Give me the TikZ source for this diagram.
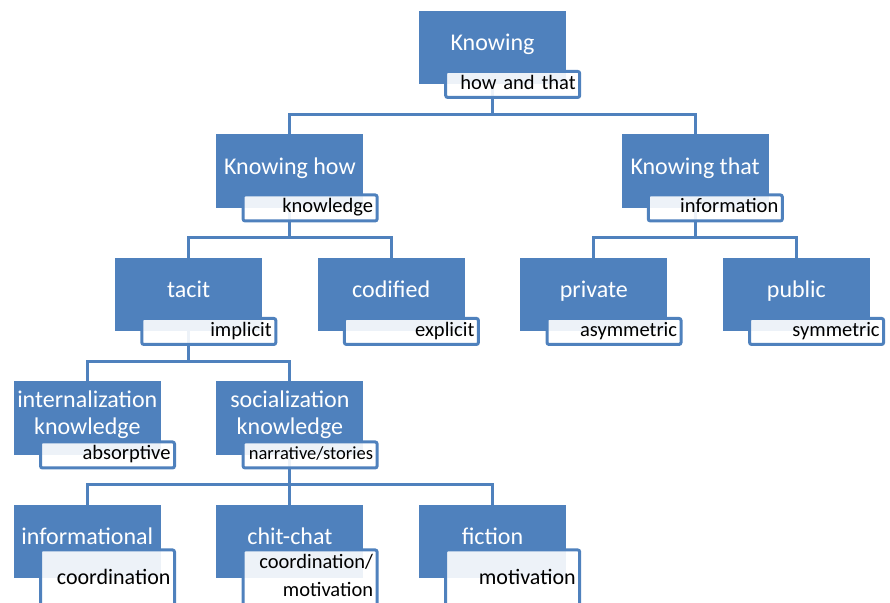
\documentclass[tikz,border=0pt]{standalone}
\usepackage{fontspec}
\setmainfont{Carlito}
\usepackage{tikz}
\usetikzlibrary{positioning}
\definecolor{boxblue}{RGB}{79,129,189}
\tikzset{
    box/.style={
           rectangle,
           fill=boxblue,
           minimum width=147pt,
           minimum height=73.5pt,
           inner sep=0pt,
           text=white,
           align=center,
           text height=16pt,
           text depth=10pt,
           font=\fontsize{24}{27}\selectfont
           },
    twoline/.style={
           text height=43pt
           },
    tag/.style={
           rectangle,
           draw=boxblue, line width=3pt,
           rounded corners=2pt,
           fill=white, fill opacity=0.9, text opacity=1,
           minimum height=26pt,
           inner xsep=4pt, inner ysep=0pt,
           text width=126pt,
           align=right,
           text height=14pt,
           text depth=4pt,
           anchor=north east,
           font=\fontsize{20.5}{28}\selectfont
           },
    tall/.style={
           minimum height=60pt
           },
    link/.style={
           draw=boxblue,
           line width=3pt
           }
}

\begin{document}
\begin{tikzpicture}[x=1pt, y=1pt, node distance=123.5pt and 101.3pt, on grid]
\path[use as bounding box, clip] (0,0) rectangle (890,-602);
   \node[box] (know) at (492.5,-47.5) {Knowing};
   \node[box] (how) [below left=123.5pt and 202.6pt of know] {Knowing how};
   \node[box] (that) [below right=123.5pt and 202.6pt of know] {Knowing that};
   \node[box] (tacit) [below left=of how] {tacit};
   \node[box] (codif) [below right=of how] {codified};
   \node[box] (priv) [below left=of that] {private};
   \node[box] (pub) [below right=of that] {public};
   \node[box, twoline] (intern) [below left=of tacit] {internalization\\knowledge};
   \node[box, twoline] (social) [below right=of tacit] {socialization\\knowledge};
   \node[box] (inform) [below left=123.5pt and 202.6pt of social] {informational};
   \node[box] (chit) [below=of social] {chit-chat};
   \node[box] (fict) [below right=123.5pt and 202.6pt of social] {fiction};
   % connectors
   \draw[link] (know.south) -- ++(0,-30) -| (how.north);
   \draw[link] (know.south) -- ++(0,-30) -| (that.north);
   \draw[link] (how.south) -- ++(0,-30) -| (tacit.north);
   \draw[link] (how.south) -- ++(0,-30) -| (codif.north);
   \draw[link] (that.south) -- ++(0,-30) -| (priv.north);
   \draw[link] (that.south) -- ++(0,-30) -| (pub.north);
   \draw[link] (tacit.south) -- ++(0,-30) -| (intern.north);
   \draw[link] (tacit.south) -- ++(0,-30) -| (social.north);
   \draw[link] (social.south) -- ++(0,-30) -| (inform.north);
   \draw[link] (social.south) -- ++(0,-30) -| (chit.north);
   \draw[link] (social.south) -- ++(0,-30) -| (fict.north);
   % tags
   \node[tag] (knowtag) at ([shift={(15pt,14.5pt)}]know.south east) {how and that};
   \node[tag] (howtag) at ([shift={(15pt,14.5pt)}]how.south east) {knowledge};
   \node[tag] (thattag) at ([shift={(15pt,14.5pt)}]that.south east) {information};
   \node[tag] (tacittag) at ([shift={(15pt,14.5pt)}]tacit.south east) {implicit};
   \node[tag] (codiftag) at ([shift={(15pt,14.5pt)}]codif.south east) {explicit};
   \node[tag] (privtag) at ([shift={(15pt,14.5pt)}]priv.south east) {asymmetric};
   \node[tag] (pubtag) at ([shift={(15pt,14.5pt)}]pub.south east) {symmetric};
   \node[tag] (interntag) at ([shift={(15pt,14.5pt)}]intern.south east) {absorptive};
   \node[tag, font=\fontsize{18.5}{22}\selectfont] (socialtag) at ([shift={(15pt,14.5pt)}]social.south east) {narrative/stories};
   \node[tag, tall, font=\fontsize{22}{28}\selectfont] (informtag) at ([shift={(15pt,30pt)}]inform.south east) {coordination};
   \node[tag, tall, text depth=37pt] (chittag) at ([shift={(15pt,30pt)}]chit.south east) {coordination/\\motivation};
   \node[tag, tall, font=\fontsize{22}{28}\selectfont] (fictag) at ([shift={(15pt,30pt)}]fict.south east) {motivation};
\end{tikzpicture}
\end{document}
